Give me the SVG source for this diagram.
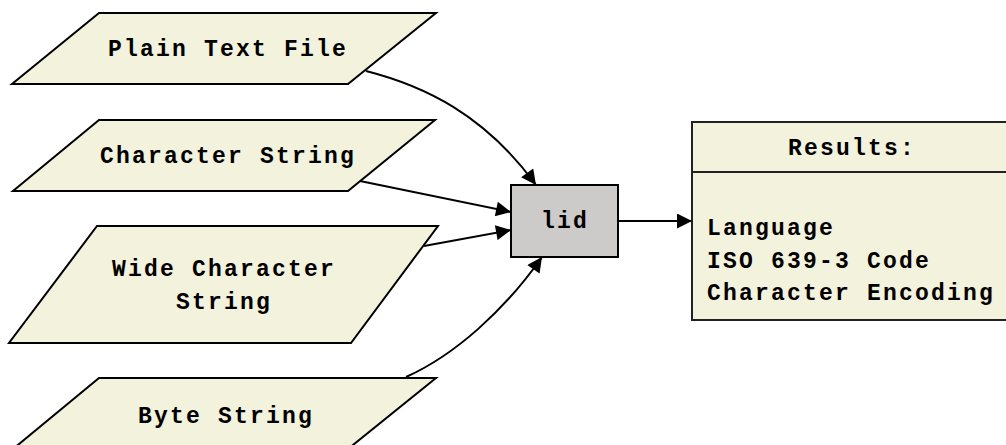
<svg xmlns="http://www.w3.org/2000/svg" width="1006" height="445" viewBox="0 0 1006 445">
<style>
.io{fill:#f3f2dc;stroke:#000;stroke-width:2}
.t{font-family:"Liberation Mono","Courier New",monospace;font-weight:bold;font-size:23px;letter-spacing:2.2px;fill:#000}
.c{text-anchor:middle}
.e{fill:none;stroke:#000;stroke-width:2}
</style>
<defs>
<marker id="ah" viewBox="0 0 10 10" refX="10" refY="5" markerWidth="18" markerHeight="15" markerUnits="userSpaceOnUse" orient="auto">
<path d="M0,0 L10,5 L0,10 Z" fill="#000"/>
</marker>
</defs>
<rect width="1006" height="445" fill="#fff"/>
<g id="connectors">
<path class="e" d="M366,71 C425,86 485,115 536,185" marker-end="url(#ah)"/>
<path class="e" d="M360,181 L511,212" marker-end="url(#ah)"/>
<path class="e" d="M424,246 L511,230" marker-end="url(#ah)"/>
<path class="e" d="M406,377 C455,355 505,310 542,257" marker-end="url(#ah)"/>
<path class="e" d="M618,221 L692,221" marker-end="url(#ah)"/>
</g>
<g id="plain">
<polygon class="io" points="99,13 436,13 348,84 12,84"/>
<text class="t c" x="228" y="56">Plain Text File</text>
</g>
<g id="charstr">
<polygon class="io" points="99,120 435,120 348,191 13,191"/>
<text class="t c" x="228" y="163">Character String</text>
</g>
<g id="widestr">
<polygon class="io" points="97,226 438,226 351,343 9,343"/>
<text class="t c" x="224" y="276">Wide Character</text>
<text class="t c" x="224" y="309">String</text>
</g>
<g id="bytestr">
<polygon class="io" points="99,378 436,378 348,449 13,449"/>
<text class="t c" x="226" y="423">Byte String</text>
</g>
<g id="lid">
<rect x="511" y="185" width="107" height="72" fill="#cdcaca" stroke="#000" stroke-width="2"/>
<text class="t c" x="565" y="228">lid</text>
</g>
<g id="results">
<rect x="692" y="122" width="320" height="198" fill="#f3f2dc" stroke="#222" stroke-width="2"/>
<line x1="692" y1="172" x2="1012" y2="172" stroke="#222" stroke-width="2"/>
<text class="t c" x="852" y="155">Results:</text>
<text class="t" x="707" y="235">Language</text>
<text class="t" x="707" y="268">ISO 639-3 Code</text>
<text class="t" x="707" y="300">Character Encoding</text>
</g>
</svg>
